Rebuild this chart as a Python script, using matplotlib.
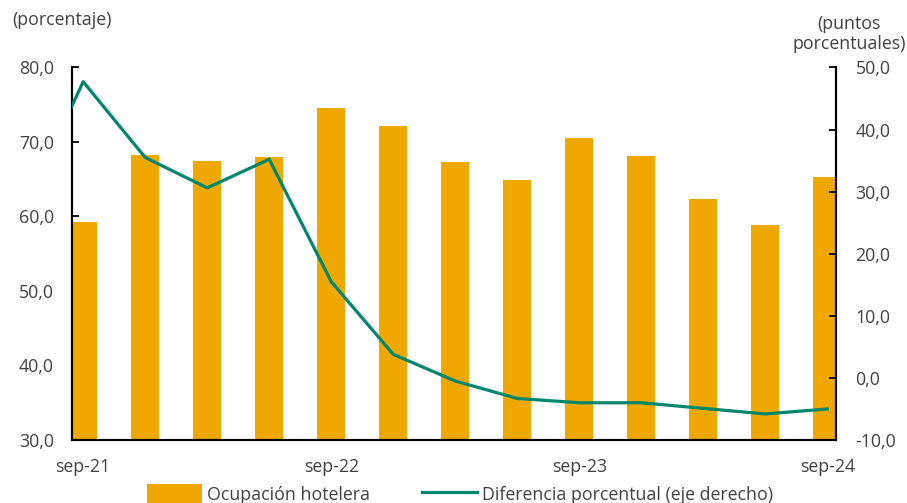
import matplotlib
matplotlib.use("Agg")
import matplotlib.pyplot as plt
import numpy as np

plt.rcParams['font.family'] = ['Open Sans', 'DejaVu Sans']

# datos trimestrales (sep-21 a sep-24)
trimestres = ['sep-21', 'dic-21', 'mar-22', 'jun-22', 'sep-22', 'dic-22', 'mar-23',
              'jun-23', 'sep-23', 'dic-23', 'mar-24', 'jun-24', 'sep-24']
ocupacion = [59.2, 68.3, 67.4, 68.0, 74.5, 72.1, 67.3, 64.9, 70.5, 68.1, 62.3, 58.8, 65.3]
# la serie de diferencia empieza un trimestre antes (jun-21), queda recortada por el eje
diferencia = [26.1, 47.7, 35.5, 30.6, 35.2, 15.5, 3.8, -0.5, -3.3, -4.0, -4.0, -4.9, -5.8, -5.0]
etiquetas = ['sep-21', 'sep-22', 'sep-23', 'sep-24']

color_barra = '#EFA800'
color_linea = '#00866A'
color_texto = '#404040'
fs = 12.8

fig = plt.figure(figsize=(9.07, 5.03), dpi=100)
ax = fig.add_axes([0.0794, 0.1252, 0.9217 - 0.0794, 0.866 - 0.1252])
ax2 = ax.twinx()

x = np.arange(len(ocupacion))
ax.bar(x, ocupacion, width=0.45, color=color_barra, zorder=2,
       label='Ocupación hotelera')
x_dif = np.arange(-1, len(ocupacion))
ax2.plot(x_dif, diferencia, color=color_linea, lw=2.3, zorder=3,
         label='Diferencia porcentual (eje derecho)')

ax.set_xlim(-0.17, 12.14)
ax.set_ylim(30, 80)
ax2.set_ylim(-10, 50)

ax.set_yticks(np.arange(30, 81, 10))
ax.set_yticklabels([f'{v:.1f}'.replace('.', ',') for v in np.arange(30, 81, 10)])
ax2.set_yticks(np.arange(-10, 51, 10))
ax2.set_yticklabels([f'{v:.1f}'.replace('.', ',') for v in np.arange(-10, 51, 10)])

# marcas de eje x algo desplazadas, etiquetas centradas en las barras
pos_lab = [0, 4, 8, 12]
ax.set_xticks([p - 0.18 for p in pos_lab])
ax.set_xticklabels([])
ax.set_xticks(pos_lab, minor=True)
ax.set_xticklabels(etiquetas, minor=True)
ax.tick_params(axis='x', which='major', direction='in', length=5, width=1.3, color='black')
ax.tick_params(axis='x', which='minor', length=0, pad=13, labelsize=fs, labelcolor=color_texto)

ax.tick_params(axis='y', direction='in', length=5, width=1.3, labelsize=fs,
               labelcolor=color_texto, pad=13)
ax2.tick_params(axis='y', direction='in', length=5, width=1.3, labelsize=fs,
                labelcolor=color_texto, pad=14)

for a in (ax, ax2):
    a.spines['top'].set_visible(False)
    for s in ('left', 'right', 'bottom'):
        a.spines[s].set_linewidth(1.5)
        a.spines[s].set_color('black')

fig.text(12 / 907, 1 - 20 / 503, '(porcentaje)', fontsize=fs, color=color_texto,
         ha='left', va='center')
fig.text(849 / 907, 1 - 34 / 503, '(puntos\nporcentuales)', fontsize=fs, color=color_texto,
         ha='center', va='center', multialignment='center', linespacing=1.2)

h1, l1 = ax.get_legend_handles_labels()
h2, l2 = ax2.get_legend_handles_labels()
fig.legend(h1 + h2, l1 + l2, loc='center', bbox_to_anchor=(460 / 907, 1 - 494 / 503),
           ncol=2, frameon=False, fontsize=fs, labelcolor=color_texto,
           handlelength=3.1, handleheight=1.4, columnspacing=2.9, handletextpad=0.3,
           borderpad=0)

fig.savefig('out.png', dpi=100)
